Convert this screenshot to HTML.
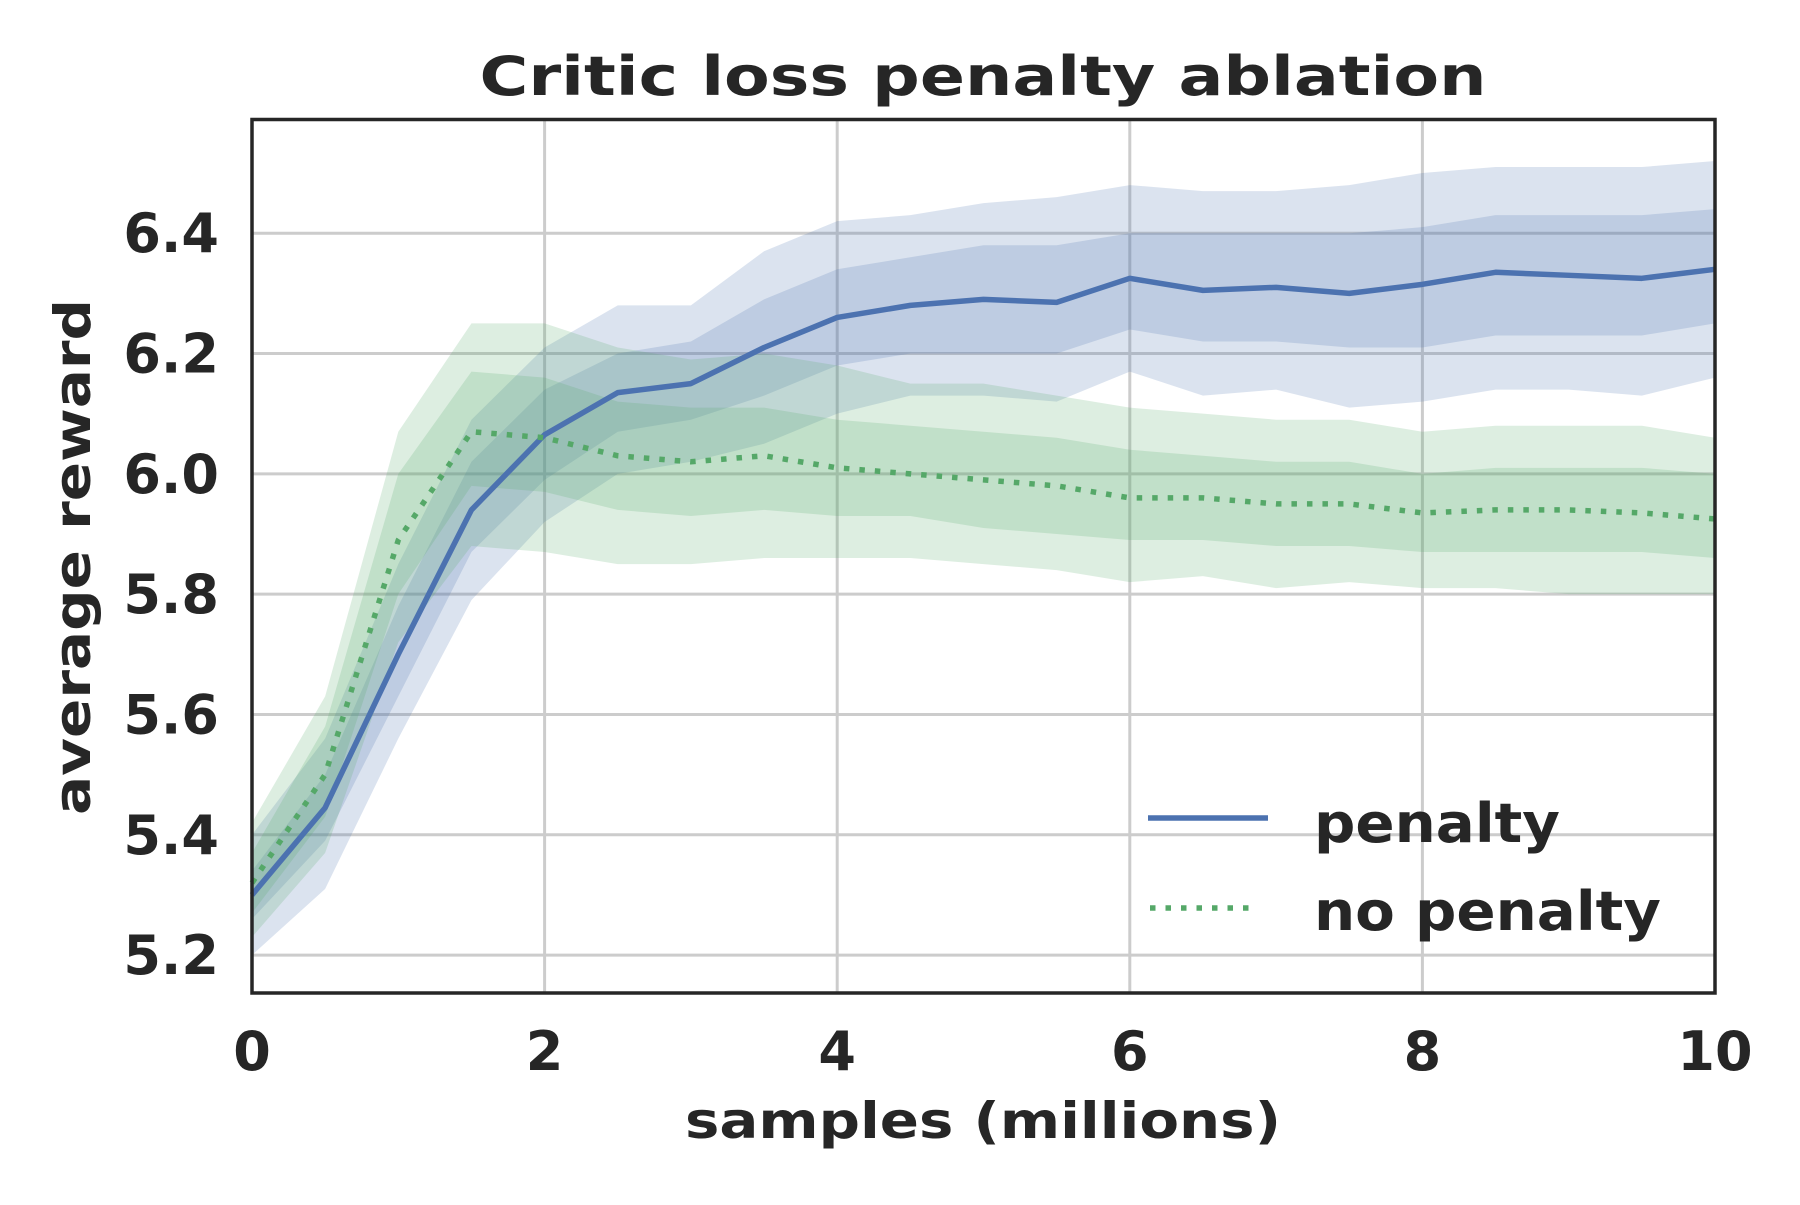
<!DOCTYPE html>
<html><head><meta charset="utf-8"><style>
html,body{margin:0;padding:0;background:#fff;}
svg text{font-family:"DejaVu Sans","Liberation Sans",sans-serif;font-weight:bold;fill:#262626;}
</style></head><body>
<svg id="chart" width="1800" height="1200" xmlns="http://www.w3.org/2000/svg">
<g id="grid"></g>
<g id="bands"></g>
<g id="lines"></g>
<rect x="252" y="119.5" width="1463" height="873.5" fill="none" stroke="#262626" stroke-width="3.5"/>
<g id="ticks"></g>
<text x="983" y="95" font-size="54" text-anchor="middle" textLength="1007" lengthAdjust="spacingAndGlyphs">Critic loss penalty ablation</text>
<text x="983" y="1138" font-size="50" text-anchor="middle" textLength="596" lengthAdjust="spacingAndGlyphs">samples (millions)</text>
<text x="0" y="0" font-size="50" text-anchor="middle" transform="translate(90,557) rotate(-90)" textLength="516" lengthAdjust="spacingAndGlyphs">average reward</text>
<g>
<line x1="1148" y1="818" x2="1268" y2="818" stroke="#4c72b0" stroke-width="5.5"/>
<text x="1314" y="842" font-size="54" textLength="246" lengthAdjust="spacingAndGlyphs">penalty</text>
<line x1="1150" y1="908" x2="1258" y2="908" stroke="#55a868" stroke-width="5.5" stroke-dasharray="5.5,10"/>
<text x="1314" y="930" font-size="54" textLength="347" lengthAdjust="spacingAndGlyphs">no penalty</text>
</g>
</svg>
<script>
const xs = [0,0.5,1,1.5,2,2.5,3,3.5,4,4.5,5,5.5,6,6.5,7,7.5,8,8.5,9,9.5,10];
const penaltyMean = [5.30,5.445,5.70,5.94,6.065,6.135,6.15,6.21,6.26,6.28,6.29,6.285,6.325,6.305,6.31,6.30,6.315,6.335,6.33,6.325,6.34];
const penaltyInnerHi = [5.34,5.50,5.78,6.02,6.14,6.20,6.22,6.29,6.34,6.36,6.38,6.38,6.40,6.40,6.40,6.40,6.41,6.43,6.43,6.43,6.44];
const penaltyInnerLo = [5.26,5.39,5.63,5.87,5.99,6.07,6.09,6.13,6.18,6.20,6.20,6.20,6.24,6.22,6.22,6.21,6.21,6.23,6.23,6.23,6.25];
const penaltyOuterHi = [5.40,5.56,5.85,6.09,6.21,6.28,6.28,6.37,6.42,6.43,6.45,6.46,6.48,6.47,6.47,6.48,6.50,6.51,6.51,6.51,6.52];
const penaltyOuterLo = [5.20,5.31,5.56,5.79,5.92,6.00,6.02,6.05,6.10,6.13,6.13,6.12,6.17,6.13,6.14,6.11,6.12,6.14,6.14,6.13,6.16];
const noPenaltyMean = [5.32,5.50,5.89,6.07,6.06,6.03,6.02,6.03,6.01,6.00,5.99,5.98,5.96,5.96,5.95,5.95,5.935,5.94,5.94,5.935,5.925];
const noPenaltyInnerHi = [5.37,5.58,6.00,6.17,6.16,6.12,6.11,6.11,6.09,6.08,6.07,6.06,6.04,6.03,6.02,6.02,6.00,6.01,6.01,6.01,6.00];
const noPenaltyInnerLo = [5.27,5.43,5.80,5.98,5.97,5.94,5.93,5.94,5.93,5.93,5.91,5.90,5.89,5.89,5.88,5.88,5.87,5.87,5.87,5.87,5.86];
const noPenaltyOuterHi = [5.42,5.63,6.07,6.25,6.25,6.21,6.19,6.20,6.18,6.15,6.15,6.13,6.11,6.10,6.09,6.09,6.07,6.08,6.08,6.08,6.06];
const noPenaltyOuterLo = [5.23,5.37,5.72,5.88,5.87,5.85,5.85,5.86,5.86,5.86,5.85,5.84,5.82,5.83,5.81,5.82,5.81,5.81,5.80,5.80,5.80];
const xTicks = [0,2,4,6,8,10];
const xTickLabels = ["0","2","4","6","8","10"];
const yTicks = [5.2,5.4,5.6,5.8,6.0,6.2,6.4];
const yTickLabels = ["5.2","5.4","5.6","5.8","6.0","6.2","6.4"];

const NS = "http://www.w3.org/2000/svg";
const X0=252, X1=1715, Y0=993, Y1=119.5;
const xMin=0, xMax=10, yMin=5.137, yMax=6.589;
function sx(v){return X0+(v-xMin)/(xMax-xMin)*(X1-X0);}
function sy(v){return Y0-(v-yMin)/(yMax-yMin)*(Y0-Y1);}
function mk(tag,attrs,parent){const e=document.createElementNS(NS,tag);for(const k in attrs)e.setAttribute(k,attrs[k]);parent.appendChild(e);return e;}

const grid=document.getElementById('grid'), ticks=document.getElementById('ticks');
xTicks.forEach((t,i)=>{
  const l=mk('line',{x1:sx(t),x2:sx(t),y1:Y1,y2:Y0,stroke:'#cccccc','stroke-width':3},grid);
  
  
  const tx=mk('text',{x:sx(t),y:1070,'font-size':54,'text-anchor':'middle'},ticks);
  tx.textContent=xTickLabels[i];
  
  
});
yTicks.forEach((t,i)=>{
  const l=mk('line',{x1:X0,x2:X1,y1:sy(t),y2:sy(t),stroke:'#cccccc','stroke-width':3},grid);
  
  
  const tx=mk('text',{x:219,y:sy(t)+19,'font-size':54,'text-anchor':'end'},ticks);
  tx.textContent=yTickLabels[i];
  
  
});

function band(hi,lo,color,name){
  let d='M'+xs.map((x,i)=>sx(x)+','+sy(hi[i])).join(' L');
  for(let i=xs.length-1;i>=0;i--) d+=' L'+sx(xs[i])+','+sy(lo[i]);
  d+=' Z';
  const p=mk('path',{d:d,fill:color,'fill-opacity':0.2,stroke:'none'},document.getElementById('bands'));
  
  
}
function line(vals,color,dash,name){
  const d='M'+xs.map((x,i)=>sx(x)+','+sy(vals[i])).join(' L');
  const p=mk('path',{d:d,fill:'none',stroke:color,'stroke-width':5.5,'stroke-linejoin':'round'},document.getElementById('lines'));
  if(dash) p.setAttribute('stroke-dasharray',dash);
  
  
}
band(penaltyOuterHi,penaltyOuterLo,'#4c72b0','penalty-outer-band');
band(penaltyInnerHi,penaltyInnerLo,'#4c72b0','penalty-inner-band');
band(noPenaltyOuterHi,noPenaltyOuterLo,'#55a868','no-penalty-outer-band');
band(noPenaltyInnerHi,noPenaltyInnerLo,'#55a868','no-penalty-inner-band');
line(penaltyMean,'#4c72b0',null,'penalty-line');
line(noPenaltyMean,'#55a868','5.5,10','no-penalty-line');
</script>
</body></html>
